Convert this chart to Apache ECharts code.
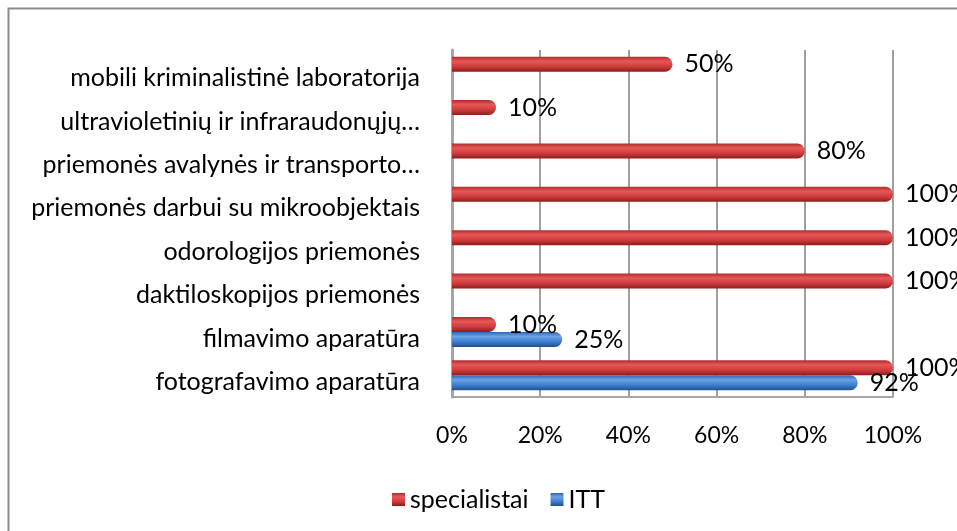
<!DOCTYPE html>
<html>
<head>
<meta charset="utf-8">
<script src="https://cdn.jsdelivr.net/npm/echarts@6/dist/echarts.min.js"></script>
<style>
  html, body { margin: 0; padding: 0; background: #fff; }
  #chart { width: 957px; height: 531px; }
</style>
</head>
<body>
<div id="chart"></div>
<script>
// kategorijos iš apačios į viršų
var categories = [
  'fotografavimo aparatūra',
  'filmavimo aparatūra',
  'daktiloskopijos priemonės',
  'odorologijos priemonės',
  'priemonės darbui su mikroobjektais',
  'priemonės avalynės ir transporto…',
  'ultravioletinių ir infraraudonųjų…',
  'mobili kriminalistinė laboratorija'
];
var specialistai = [100, 10, 100, 100, 100, 80, 10, 50];
var itt = [92, 25, null, null, null, null, null, null];
var xTicks = [0, 20, 40, 60, 80, 100];

var font = 'Lato, "Noto Sans", sans-serif';

function cyl(c1, c2, c3, c4) {
  return new echarts.graphic.LinearGradient(0, 0, 0, 1, [
    { offset: 0, color: c1 },
    { offset: 0.3, color: c2 },
    { offset: 0.65, color: c3 },
    { offset: 1, color: c4 }
  ]);
}

var chart = echarts.init(document.getElementById('chart'));
chart.setOption({
  animation: false,
  textStyle: { fontFamily: font },
  graphic: [{
    type: 'rect',
    shape: { x: 8.5, y: 8.5, width: 1000, height: 1000 },
    style: { fill: 'none', stroke: '#8c8c8c', lineWidth: 2 },
    silent: true
  }],
  legend: {
    data: ['specialistai', 'ITT'],
    top: 482,
    left: 387,
    itemWidth: 13,
    itemHeight: 13,
    itemGap: 22,
    icon: 'rect',
    textStyle: { fontSize: 25, color: '#000', fontFamily: font }
  },
  grid: { left: 452, right: 64, top: 50, height: 347 },
  xAxis: {
    type: 'value',
    min: xTicks[0],
    max: xTicks[xTicks.length - 1],
    interval: 20,
    axisLine: { show: true, lineStyle: { color: '#a6a6a6', width: 2 } },
    axisTick: { show: false },
    splitLine: { show: true, lineStyle: { color: '#a0a0a0', width: 2 } },
    axisLabel: {
      margin: 27,
      fontSize: 23,
      color: '#000',
      fontFamily: font,
      formatter: function (v) { return v + '%'; }
    }
  },
  yAxis: {
    type: 'category',
    data: categories,
    axisLine: { show: true, lineStyle: { color: '#a6a6a6', width: 3 } },
    axisTick: { show: false },
    axisLabel: {
      margin: 32,
      fontSize: 25,
      color: '#000',
      fontFamily: font,
      verticalAlign: 'top',
      lineHeight: 13
    }
  },
  series: [
    {
      name: 'specialistai',
      type: 'bar',
      data: specialistai,
      barWidth: 15,
      barGap: '0%',
      itemStyle: {
        color: cyl('#b32b2b', '#e65858', '#cf3c3c', '#8f1d1d'),
        borderRadius: [0, 8, 8, 0]
      },
      label: {
        show: true,
        position: 'right',
        distance: 12,
        fontSize: 25,
        color: '#000',
        fontFamily: font,
        formatter: '{c}%'
      }
    },
    {
      name: 'ITT',
      type: 'bar',
      data: itt,
      barWidth: 15,
      barGap: '0%',
      itemStyle: {
        color: cyl('#2f66b0', '#6aa3e6', '#3f7fd0', '#214f8f'),
        borderRadius: [0, 8, 8, 0]
      },
      label: {
        show: true,
        position: 'right',
        distance: 12,
        fontSize: 25,
        color: '#000',
        fontFamily: font,
        formatter: '{c}%'
      }
    }
  ]
});
</script>
</body>
</html>
